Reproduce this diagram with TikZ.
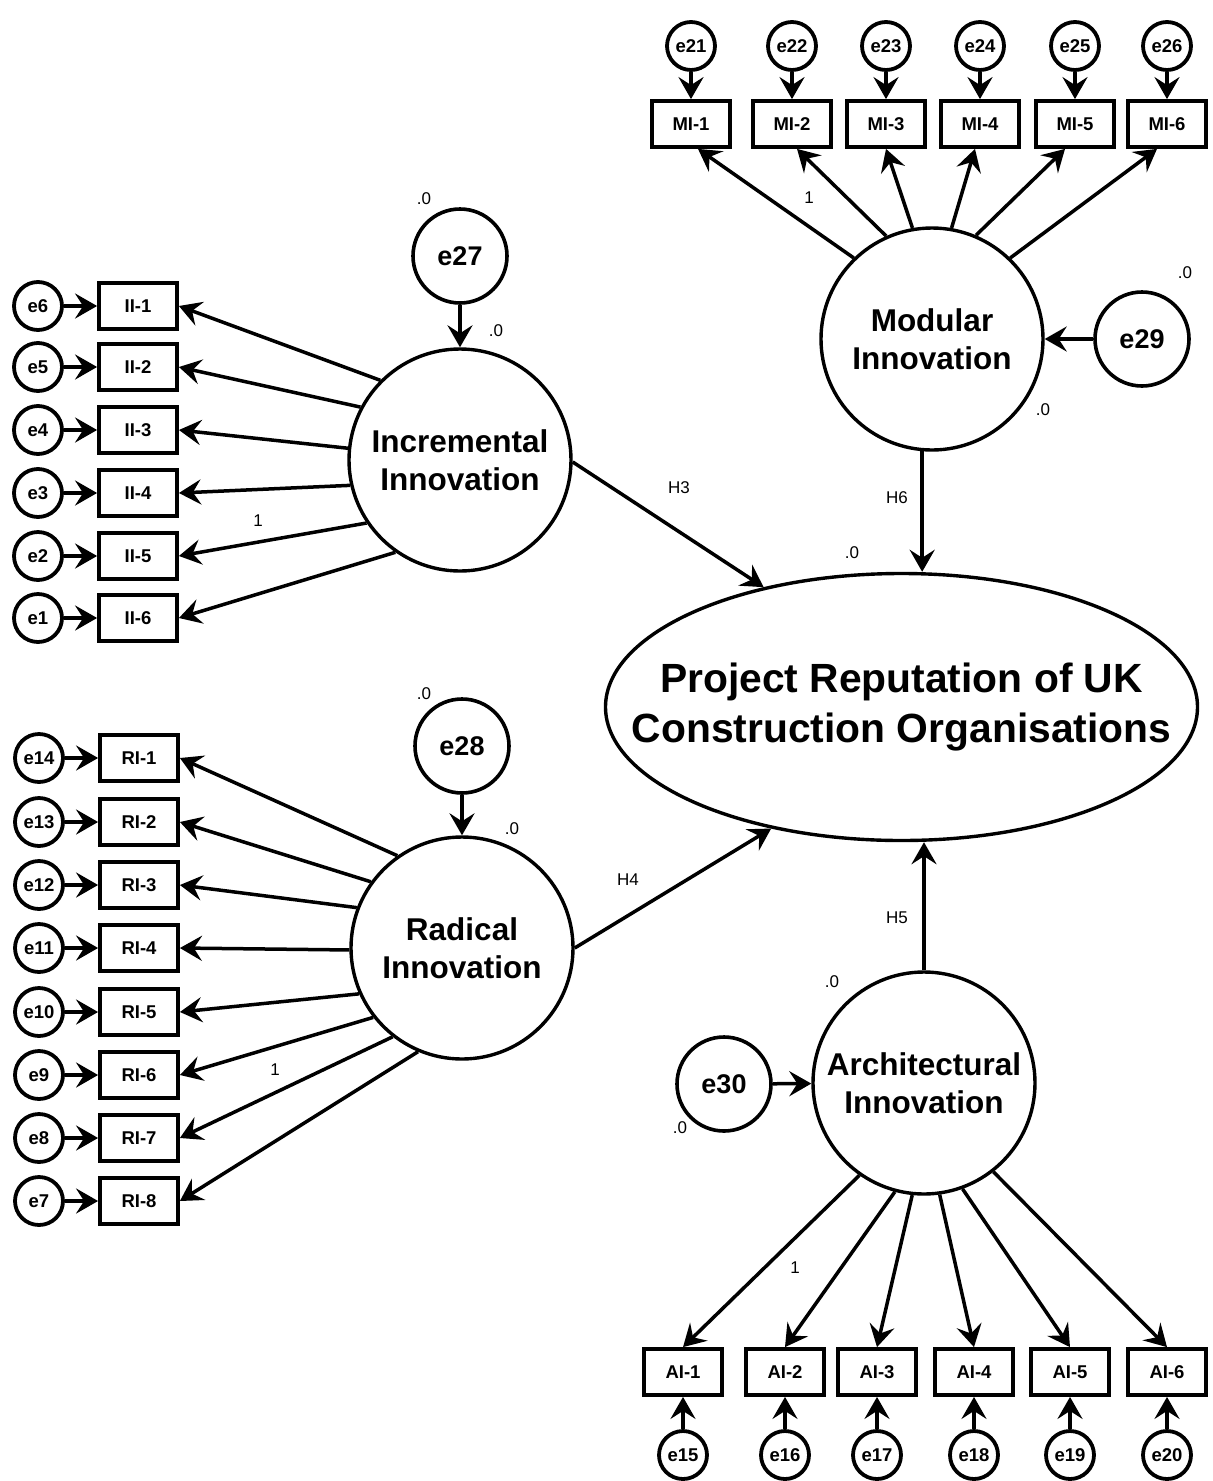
\documentclass[tikz,border=0pt]{standalone}
\usepackage{fontspec}
\setmainfont{Liberation Sans}
\usetikzlibrary{arrows.meta,shapes.geometric,calc}
\begin{document}
\begin{tikzpicture}[x=1pt,y=-1pt,
  lat/.style={circle,draw,line width=3.4pt,minimum size=222pt,inner sep=0pt,align=center,font=\fontsize{31.5}{38}\selectfont\bfseries},
  err/.style={circle,draw,line width=3.6pt,minimum size=94pt,inner sep=0pt,font=\fontsize{27}{30}\selectfont\bfseries},
  serr/.style={circle,draw,line width=3.8pt,minimum size=48pt,inner sep=0pt,font=\fontsize{18.5}{20}\selectfont\bfseries},
  obs/.style={rectangle,draw,line width=3.8pt,minimum width=78pt,minimum height=46pt,inner sep=0pt,font=\fontsize{18.5}{20}\selectfont\bfseries},
  con/.style={line width=3.5pt,-{Stealth[length=22pt,width=25pt,inset=8pt]}},
  lbl/.style={font=\fontsize{17}{20}\selectfont,inner sep=0pt},
]
\useasboundingbox (0,0) rectangle (1213,1481);

% ---------- latent variables ----------
\node[lat] (inc) at (460,460) {Incremental\\Innovation};
\node[lat] (rad) at (462,948) {Radical\\Innovation};
\node[lat] (mod) at (932,339) {Modular\\Innovation};
\node[lat] (arch) at (924,1083) {Architectural\\Innovation};
\node[ellipse,draw,line width=3.4pt,minimum width=592pt,minimum height=267pt,inner sep=0pt] (prj) at (901.5,707) {};
\node[font=\fontsize{40.8}{50}\selectfont\bfseries,align=center,inner sep=0pt] (prjtext) at (prj.center) {Project Reputation of UK\\Construction Organisations};

% ---------- disturbance terms ----------
\node[err] (e27) at (460,256) {e27};
\node[err] (e28) at (462,746) {e28};
\node[err] (e29) at (1142,339) {e29};
\node[err] (e30) at (724,1084) {e30};
\draw[con] (e27) -- (inc);
\draw[con] (e28) -- (rad);
\draw[con] (e29) -- (mod);
\draw[con] (e30) -- (arch);

% ---------- Incremental indicators ----------
\foreach \i/\y/\e/\a in {1/306/6/135,2/367/5/152,3/430/4/174,4/493/3/193,5/556/2/214,6/618/1/235} {
  \node[serr] (e\e) at (38,\y) {e\e};
  \node[obs] (ii\i) at (138,\y) {II-\i};
  \draw[con] (e\e) -- (ii\i);
  \draw[con] (inc.\a) -- (ii\i.east);
}

% ---------- Radical indicators ----------
\foreach \i/\y/\e/\a in {1/758/14/125,2/822/13/144,3/885/12/159,4/948/11/181,5/1012/10/204,6/1075/9/218,7/1138/8/232,8/1201/7/247} {
  \node[serr] (e\e) at (39,\y) {e\e};
  \node[obs] (ri\i) at (139,\y) {RI-\i};
  \draw[con] (e\e) -- (ri\i);
  \draw[con] (rad.\a) -- (ri\i.east);
}

% ---------- Modular indicators ----------
\foreach \i/\x/\e/\a/\o in {1/691/21/134/7,2/792/22/114/5,3/886/23/100/0,4/980/24/80/-5,5/1075/25/67/-10,6/1167/26/46/-10} {
  \node[serr] (e\e) at (\x,46) {e\e};
  \node[obs] (mi\i) at (\x,124) {MI-\i};
  \draw[con] (e\e) -- (mi\i);
  \draw[con] (mod.\a) -- ($(mi\i.south)+(\o,0)$);
}

% ---------- Architectural indicators ----------
\foreach \i/\x/\e/\a in {1/683/15/235,2/785/16/255,3/877/17/264,4/974/18/278,5/1070/19/290,6/1167/20/308} {
  \node[serr] (e\e) at (\x,1455) {e\e};
  \node[obs] (ai\i) at (\x,1372) {AI-\i};
  \draw[con] (e\e) -- (ai\i);
  \draw[con] (arch.\a) -- (ai\i.north);
}

% ---------- structural paths ----------
\draw[con] (inc.359) -- (prj.139);
\draw[con] (rad.0) -- (prj.223);
\draw[con] (mod.265) -- (mod.265 |- prj.north);
\draw[con] (arch.north) -- (arch.north |- prj.south);

% ---------- labels ----------
\node[lbl] (lH3) at (679,488) {H3};
\node[lbl] (lH4) at (628,880) {H4};
\node[lbl] (lH6) at (897,498) {H6};
\node[lbl] (lH5) at (897,918) {H5};
\node[lbl] (lone1) at (258,521) {1};
\node[lbl] (lone2) at (275,1070) {1};
\node[lbl] (lone3) at (809,198) {1};
\node[lbl] (lone4) at (795,1268) {1};
\node[lbl] (z1) at (424,199) {.0};
\node[lbl] (z2) at (496,331) {.0};
\node[lbl] (z3) at (424,694) {.0};
\node[lbl] (z4) at (512,829) {.0};
\node[lbl] (z5) at (1185,273) {.0};
\node[lbl] (z6) at (1043,410) {.0};
\node[lbl] (z7) at (852,553) {.0};
\node[lbl] (z8) at (832,982) {.0};
\node[lbl] (z9) at (680,1128) {.0};
\end{tikzpicture}
\end{document}
